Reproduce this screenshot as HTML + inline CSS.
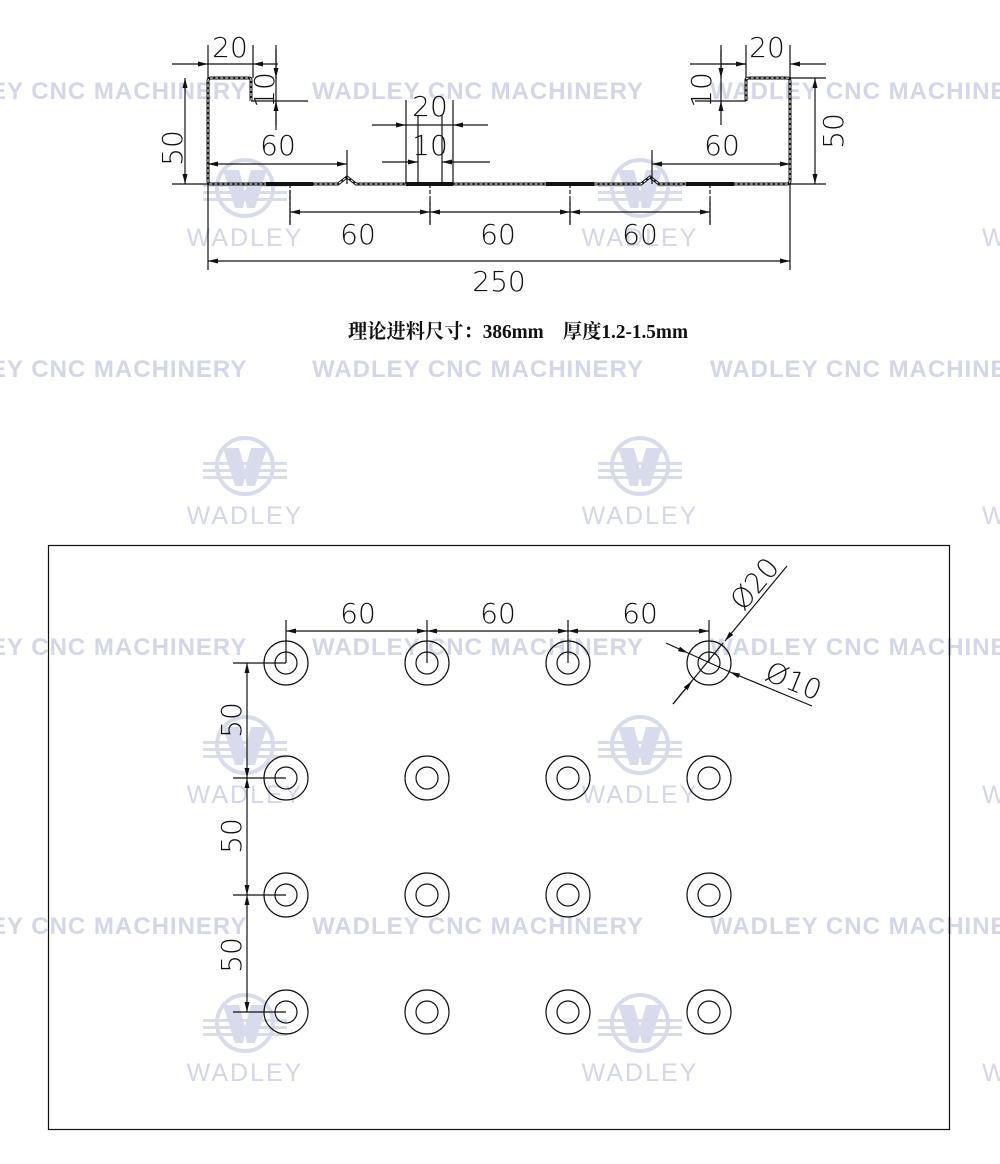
<!DOCTYPE html>
<html><head><meta charset="utf-8"><style>
html,body{margin:0;padding:0;background:#fff}
svg{display:block}
.t{font-family:"DejaVu Sans","Liberation Sans",sans-serif;font-size:28px;fill:#111;font-weight:300}
.w{font-family:"Liberation Sans",sans-serif;font-weight:bold;font-size:24px;fill:#d3d6e8;letter-spacing:1px}
.wl{font-family:"Liberation Sans",sans-serif;font-size:25px;fill:#d3d6e8;letter-spacing:2px}
</style></head><body>
<svg width="1000" height="1164" viewBox="0 0 1000 1164" xmlns="http://www.w3.org/2000/svg">
<defs>
<marker id="a" viewBox="0 0 10 6" refX="10" refY="3" markerWidth="10" markerHeight="6" orient="auto-start-reverse" markerUnits="userSpaceOnUse"><path d="M0,0.5 L10,3 L0,5.5 z" fill="#111"/></marker>
<g id="logo">
<circle cx="0" cy="0" r="28" fill="none" stroke="#d8dbec" stroke-width="4"/>
<path d="M-22,-18 H-6 L0,4 L6,-18 H22 L10,20 H2 L0,10 L-2,20 H-10 Z" fill="#d8dbec"/>
<rect x="-42" y="-4" width="84" height="3" fill="#d8dbec"/>
<rect x="-42" y="3" width="84" height="3" fill="#d8dbec"/>
<rect x="-42" y="10" width="84" height="3" fill="#d8dbec"/>
</g>
</defs>
<g>
<text class="w" x="-10" y="99">EY CNC MACHINERY</text>
<text class="w" x="312" y="99">WADLEY CNC MACHINERY</text>
<text class="w" x="710" y="99">WADLEY CNC MACHINERY</text>
<text class="w" x="-10" y="377">EY CNC MACHINERY</text>
<text class="w" x="312" y="377">WADLEY CNC MACHINERY</text>
<text class="w" x="710" y="377">WADLEY CNC MACHINERY</text>
<text class="w" x="-10" y="655">EY CNC MACHINERY</text>
<text class="w" x="312" y="655">WADLEY CNC MACHINERY</text>
<text class="w" x="710" y="655">WADLEY CNC MACHINERY</text>
<text class="w" x="-10" y="934">EY CNC MACHINERY</text>
<text class="w" x="312" y="934">WADLEY CNC MACHINERY</text>
<text class="w" x="710" y="934">WADLEY CNC MACHINERY</text>
<use href="#logo" x="245" y="188"/><text class="wl" x="245" y="246" text-anchor="middle">WADLEY</text>
<use href="#logo" x="640" y="188"/><text class="wl" x="640" y="246" text-anchor="middle">WADLEY</text>
<text class="wl" x="982" y="246">W</text>
<use href="#logo" x="245" y="466"/><text class="wl" x="245" y="524" text-anchor="middle">WADLEY</text>
<use href="#logo" x="640" y="466"/><text class="wl" x="640" y="524" text-anchor="middle">WADLEY</text>
<text class="wl" x="982" y="524">W</text>
<use href="#logo" x="245" y="745"/><text class="wl" x="245" y="803" text-anchor="middle">WADLEY</text>
<use href="#logo" x="640" y="745"/><text class="wl" x="640" y="803" text-anchor="middle">WADLEY</text>
<text class="wl" x="982" y="803">W</text>
<use href="#logo" x="245" y="1023"/><text class="wl" x="245" y="1081" text-anchor="middle">WADLEY</text>
<use href="#logo" x="640" y="1023"/><text class="wl" x="640" y="1081" text-anchor="middle">WADLEY</text>
<text class="wl" x="982" y="1081">W</text>
</g>

<g fill="none" stroke="#111">
<path d="M251,101 V80 Q251,78 249,78 H211 Q208,78 208,81 V181 Q208,184 211,184 H338 L347,177 L356,184 H641 L650,177 L659,184 H787 Q790,184 790,181 V81 Q790,78 787,78 H749 Q746,78 746,80 V101" stroke-width="3"/>
<path d="M251,101 V80 Q251,78 249,78 H211 Q208,78 208,81 V181 Q208,184 211,184 H338 L347,177 L356,184 H641 L650,177 L659,184 H787 Q790,184 790,181 V81 Q790,78 787,78 H749 Q746,78 746,80 V101" stroke="#fff" stroke-width="1" stroke-dasharray="3,2"/>
<g stroke-width="4"><path d="M266,184H313M406,184H453M546,184H594M686,184H734"/></g>
</g>
<g stroke="#111" stroke-width="1.2" fill="none">
<path d="M208,45V78M253,45V78"/>
<path d="M172,64H208" marker-end="url(#a)"/><path d="M253,64H278" marker-start="url(#a)"/><path d="M208,64H253"/>
<path d="M276,45V130"/><path d="M276,50V78" marker-end="url(#a)"/><path d="M276,125V101" marker-end="url(#a)"/>
<path d="M251,101H308"/>
<path d="M172,184H208"/><path d="M185,78V184" marker-start="url(#a)" marker-end="url(#a)"/>
<path d="M347,150V184"/><path d="M208,164H347" marker-start="url(#a)" marker-end="url(#a)"/>
<path d="M406,100V184M453,100V184M418,115V184M442,115V184"/>
<path d="M372,125H406" marker-end="url(#a)"/><path d="M488,125H453" marker-end="url(#a)"/><path d="M406,125H453"/>
<path d="M382,162H418" marker-end="url(#a)"/><path d="M490,162H442" marker-end="url(#a)"/>
<path d="M290,184V225M430,184V225M570,184V225M710,184V225" stroke-dasharray="4,2"/>
<path d="M290,190V225M430,200V225M570,200V225M710,200V225"/>
<path d="M290,212H430" marker-start="url(#a)" marker-end="url(#a)"/>
<path d="M430,212H570" marker-start="url(#a)" marker-end="url(#a)"/>
<path d="M570,212H710" marker-start="url(#a)" marker-end="url(#a)"/>
<path d="M208,184V270M790,184V270"/>
<path d="M208,261H790" marker-start="url(#a)" marker-end="url(#a)"/>
<path d="M746,45V78M790,45V78"/>
<path d="M690,64H746" /><path d="M721,64H746" marker-end="url(#a)"/><path d="M826,64H790" marker-end="url(#a)"/>
<path d="M721,45V105"/><path d="M721,50V78" marker-end="url(#a)"/><path d="M721,125V101" marker-end="url(#a)"/><path d="M695,101H746"/>
<path d="M790,78H826M790,184H826"/><path d="M815,78V184" marker-start="url(#a)" marker-end="url(#a)"/>
<path d="M652,150V184"/><path d="M652,164H790" marker-start="url(#a)" marker-end="url(#a)"/>
</g>
<g class="t" text-anchor="middle">
<text x="230" y="57">20</text>
<text x="767" y="57">20</text>
<text x="278" y="155">60</text>
<text x="722" y="155">60</text>
<text x="430" y="116">20</text>
<text x="430" y="155">10</text>
<text x="358" y="244">60</text>
<text x="498" y="244">60</text>
<text x="640" y="244">60</text>
<text x="499" y="291">250</text>
<text transform="translate(182,148) rotate(-90)">50</text>
<text transform="translate(843,131) rotate(-90)">50</text>
<text transform="translate(265,90) rotate(-90)" text-anchor="middle" dy="9">10</text>
<text transform="translate(702,90) rotate(-90)" text-anchor="middle" dy="9">10</text>
</g>
<text x="348" y="338" textLength="340" lengthAdjust="spacingAndGlyphs" style="font-family:'Liberation Serif','Noto Serif CJK SC',serif;font-weight:bold;font-size:20px;fill:#111">理论进料尺寸：386mm　厚度1.2-1.5mm</text>

<rect x="48.5" y="545.5" width="901" height="584" fill="none" stroke="#111" stroke-width="1.2"/>
<g fill="none" stroke="#111" stroke-width="1.2">
<g id="row">
<circle cx="286" cy="663" r="22"/><circle cx="286" cy="663" r="11"/>
<circle cx="427" cy="663" r="22"/><circle cx="427" cy="663" r="11"/>
<circle cx="568" cy="663" r="22"/><circle cx="568" cy="663" r="11"/>
<circle cx="709" cy="663" r="22"/><circle cx="709" cy="663" r="11"/>
</g>
<use href="#row" y="115"/><use href="#row" y="232"/><use href="#row" y="349"/>
<path d="M286,620V663M427,620V663M568,620V663M709,620V663"/>
<path d="M286,631H427" marker-start="url(#a)" marker-end="url(#a)"/>
<path d="M427,631H568" marker-start="url(#a)" marker-end="url(#a)"/>
<path d="M568,631H709" marker-start="url(#a)" marker-end="url(#a)"/>
<path d="M233,663H286M233,778H286M233,895H286M233,1012H286"/>
<path d="M247,663V778" marker-start="url(#a)" marker-end="url(#a)"/>
<path d="M247,778V895" marker-start="url(#a)" marker-end="url(#a)"/>
<path d="M247,895V1012" marker-start="url(#a)" marker-end="url(#a)"/>
<path d="M673,704L723,643" /><path d="M787,566L725,641" marker-end="url(#a)"/><path d="M673,704L692,681" marker-end="url(#a)"/>
<path d="M666,643L688,653" marker-end="url(#a)"/><path d="M812,706L730,672" marker-end="url(#a)"/><path d="M688,653L730,672"/>
</g>
<g class="t" text-anchor="middle">
<text x="358" y="623">60</text>
<text x="498" y="623">60</text>
<text x="640" y="623">60</text>
<text transform="translate(241,720) rotate(-90)">50</text>
<text transform="translate(241,836) rotate(-90)">50</text>
<text transform="translate(241,955) rotate(-90)">50</text>
<text transform="translate(762,590) rotate(-50)">Ø20</text>
<text transform="translate(790,690) rotate(22)">Ø10</text>
</g>
</svg>
</body></html>
